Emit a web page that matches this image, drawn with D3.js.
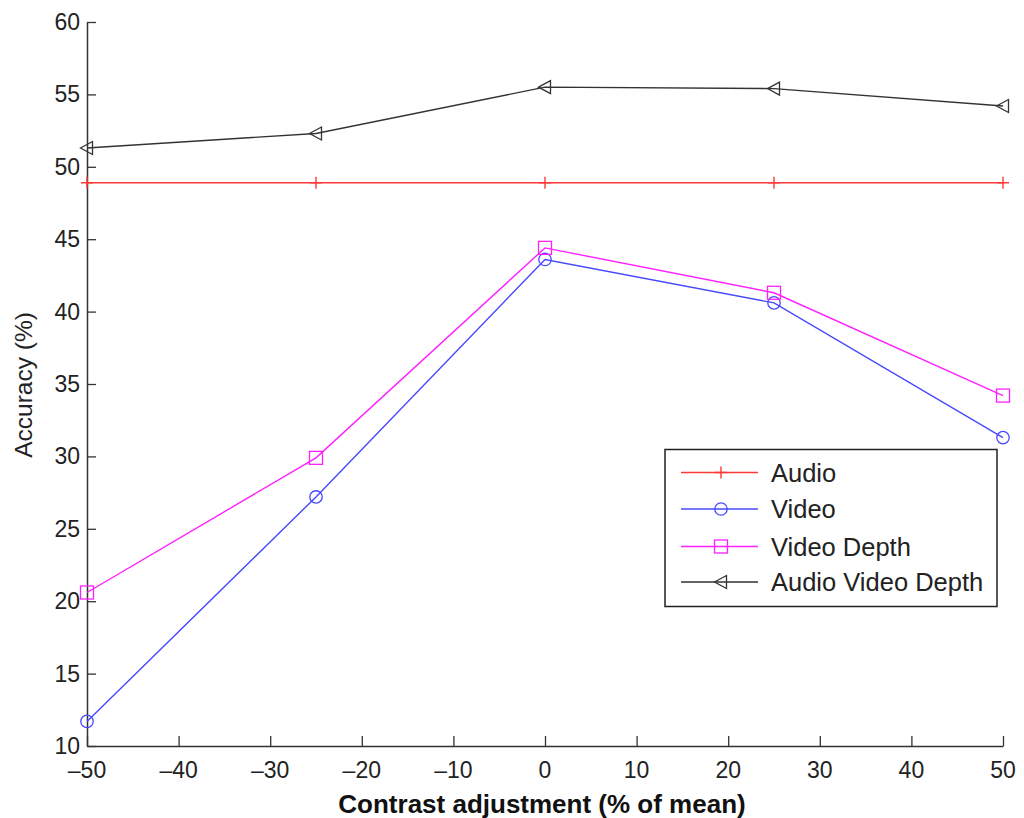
<!DOCTYPE html>
<html>
<head>
<meta charset="utf-8">
<script src="https://cdn.jsdelivr.net/npm/d3@7"></script>
<style>
  html, body { margin: 0; padding: 0; background: #fff; }
  svg { display: block; font-family: "Liberation Sans", Arial, Helvetica, sans-serif; }
</style>
</head>
<body>
<svg id="chart" width="1024" height="818"></svg>
<script>
// Contrast adjustment levels (% of mean)
const contrast = [-50, -25, 0, 25, 50];

// Accuracy (%) per modality
const audio = [48.9, 48.9, 48.9, 48.9, 48.9];
const video = [11.7, 27.2, 43.6, 40.6, 31.3];
const videoDepth = [20.6, 29.9, 44.4, 41.3, 34.2];
const audioVideoDepth = [51.3, 52.3, 55.5, 55.4, 54.2];

const xTicks = [-50, -40, -30, -20, -10, 0, 10, 20, 30, 40, 50];
const yTicks = [10, 15, 20, 25, 30, 35, 40, 45, 50, 55, 60];

const seriesNames = ["Audio", "Video", "Video Depth", "Audio Video Depth"];
const seriesValues = [audio, video, videoDepth, audioVideoDepth];
const seriesColors = ["#ff3838", "#4848ff", "#ff20ff", "#333333"];
const seriesMarkers = ["plus", "circle", "square", "triangleLeft"];

const svg = d3.select("#chart");
const plotLeft = 87, plotRight = 1003, plotTop = 22, plotBottom = 746;

const x = d3.scaleLinear().domain([-50, 50]).range([plotLeft, plotRight]);
const y = d3.scaleLinear().domain([10, 60]).range([plotBottom, plotTop]);

const axisColor = "#333";
const minus = s => String(s).replace("-", "\u2013");

// X axis: ticks point inward (upwards)
const xAxis = svg.append("g").attr("transform", `translate(0,${plotBottom})`)
  .call(d3.axisTop(x).tickValues(xTicks).tickSize(10).tickSizeOuter(0).tickFormat(() => ""));
xAxis.select(".domain").attr("stroke", axisColor).attr("stroke-width", 1.5);
xAxis.selectAll(".tick line").attr("stroke", axisColor).attr("stroke-width", 1.3);
svg.append("g").selectAll("text").data(xTicks).join("text")
  .attr("x", d => x(d)).attr("y", 778)
  .attr("text-anchor", "middle").attr("font-size", 23).attr("fill", "#222")
  .text(d => minus(d));

// Y axis: ticks point inward (rightwards)
const yAxis = svg.append("g").attr("transform", `translate(${plotLeft},0)`)
  .call(d3.axisRight(y).tickValues(yTicks).tickSize(9).tickSizeOuter(0).tickFormat(() => ""));
yAxis.select(".domain").attr("stroke", axisColor).attr("stroke-width", 1.5);
yAxis.selectAll(".tick line").attr("stroke", axisColor).attr("stroke-width", 1.3);
svg.append("g").selectAll("text").data(yTicks).join("text")
  .attr("x", 80).attr("y", d => y(d) + 8)
  .attr("text-anchor", "end").attr("font-size", 23).attr("fill", "#222")
  .text(d => d);

// Axis titles
svg.append("text")
  .attr("x", 542).attr("y", 813)
  .attr("text-anchor", "middle").attr("font-size", 26).attr("font-weight", "bold").attr("fill", "#111")
  .text("Contrast adjustment (% of mean)");
svg.append("text")
  .attr("transform", "translate(32,385) rotate(-90)")
  .attr("text-anchor", "middle").attr("font-size", 24.5).attr("fill", "#222")
  .text("Accuracy (%)");

// Marker drawing
function drawMarker(g, type, cx, cy, color) {
  if (type === "plus") {
    g.append("path").attr("d", `M${cx - 6},${cy}H${cx + 6}M${cx},${cy - 6}V${cy + 6}`)
      .attr("stroke", color).attr("stroke-width", 1.4).attr("fill", "none");
  } else if (type === "circle") {
    g.append("circle").attr("cx", cx).attr("cy", cy).attr("r", 6.2)
      .attr("stroke", color).attr("stroke-width", 1.3).attr("fill", "none");
  } else if (type === "square") {
    g.append("rect").attr("x", cx - 6.5).attr("y", cy - 6.5).attr("width", 13).attr("height", 13)
      .attr("stroke", color).attr("stroke-width", 1.3).attr("fill", "none");
  } else if (type === "triangleLeft") {
    g.append("path").attr("d", `M${cx - 6.5},${cy}L${cx + 5.5},${cy - 6.5}L${cx + 5.5},${cy + 6.5}Z`)
      .attr("stroke", color).attr("stroke-width", 1.3).attr("fill", "none");
  }
}

const line = d3.line().x((d, i) => x(contrast[i])).y(d => y(d));

seriesValues.forEach((vals, k) => {
  const g = svg.append("g");
  g.append("path").attr("d", line(vals))
    .attr("fill", "none").attr("stroke", seriesColors[k]).attr("stroke-width", 1.4);
  vals.forEach((v, i) => drawMarker(g, seriesMarkers[k], x(contrast[i]), y(v), seriesColors[k]));
});

// Legend
const legend = svg.append("g");
legend.append("rect").attr("x", 665).attr("y", 449.5).attr("width", 332).attr("height", 157)
  .attr("fill", "#fff").attr("stroke", "#222").attr("stroke-width", 1.5);
const rowY = [472.5, 509, 546.5, 582];
seriesNames.forEach((name, k) => {
  legend.append("line").attr("x1", 681).attr("x2", 758).attr("y1", rowY[k]).attr("y2", rowY[k])
    .attr("stroke", seriesColors[k]).attr("stroke-width", 1.4);
  drawMarker(legend, seriesMarkers[k], 721, rowY[k], seriesColors[k]);
  legend.append("text").attr("x", 771).attr("y", rowY[k] + 9)
    .attr("font-size", 25.5).attr("fill", "#222").text(name);
});
</script>
</body>
</html>
